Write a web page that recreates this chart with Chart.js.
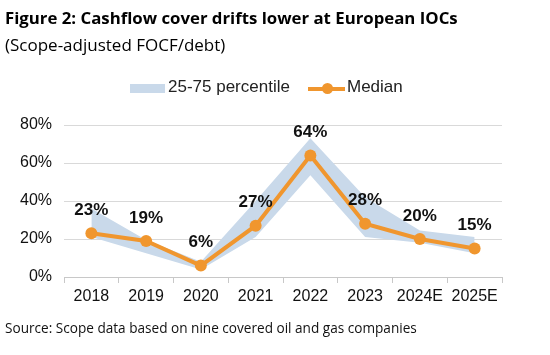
<!DOCTYPE html>
<html>
<head>
<meta charset="utf-8">
<script src="https://cdn.jsdelivr.net/npm/chart.js@4"></script>
<style>
  html, body { margin: 0; padding: 0; background: #fff; }
  #wrap { position: relative; width: 550px; height: 355px; overflow: hidden; }
  canvas { position: absolute; left: 0; top: 0; }
  .txt { position: absolute; white-space: nowrap; color: #000; }
  #title { left: 5px; top: 6px; font: bold 16.8px "Open Sans", sans-serif; }
  #subtitle { left: 5px; top: 33px; font: 17px "Open Sans", sans-serif; }
  #source { left: 5px; top: 318px; font: 13.6px "Open Sans", sans-serif; color: #111; }
  #legend { position: absolute; top: 78px; left: 0; width: 550px; height: 22px; font: 17px "Liberation Sans", Arial, sans-serif; color: #222; }
  .lg { position: absolute; }
</style>
</head>
<body>
<div id="wrap">
  <canvas id="c" width="550" height="355"></canvas>
  <div class="txt" id="title">Figure 2: Cashflow cover drifts lower at European IOCs</div>
  <div class="txt" id="subtitle">(Scope-adjusted FOCF/debt)</div>
  <div id="legend">
    <div class="lg" style="left:130px;top:6px;width:35px;height:9px;background:#c9d9ea;"></div>
    <div class="lg" style="left:168px;top:-1px;">25-75 percentile</div>
    <div class="lg" style="left:308px;top:9px;width:37px;height:3.5px;background:#f0962e;"></div>
    <div class="lg" style="left:322px;top:5px;width:11px;height:11px;border-radius:50%;background:#f0962e;"></div>
    <div class="lg" style="left:347px;top:-1px;">Median</div>
  </div>
  <div class="txt" id="source">Source: Scope data based on nine covered oil and gas companies</div>
</div>
<script>
const categories = ["2018", "2019", "2020", "2021", "2022", "2023", "2024E", "2025E"];
const median = [23, 19, 6, 27, 64, 28, 20, 15];
const p75 = [36, 19.5, 8, 40, 73, 42, 24.5, 21];
const p25 = [21, 12.5, 4, 21, 53.5, 21, 18, 12.5];
const yTicks = [0, 20, 40, 60, 80];

const labelPlugin = {
  id: 'medianLabels',
  afterDatasetsDraw(chart) {
    const ctx = chart.ctx;
    const meta = chart.getDatasetMeta(2);
    ctx.save();
    ctx.font = 'bold 17px "Liberation Sans", Arial, sans-serif';
    ctx.fillStyle = '#111';
    ctx.textAlign = 'center';
    ctx.textBaseline = 'middle';
    meta.data.forEach((pt, i) => {
      ctx.fillText(median[i] + '%', pt.x, pt.y - 23);
    });
    ctx.restore();
  }
};

new Chart(document.getElementById('c'), {
  type: 'line',
  data: {
    labels: categories,
    datasets: [
      { label: 'p75', data: p75, borderWidth: 0, pointRadius: 0, fill: '+1', backgroundColor: '#c9d9ea', tension: 0, order: 2 },
      { label: 'p25', data: p25, borderWidth: 0, pointRadius: 0, fill: false, backgroundColor: '#c9d9ea', tension: 0, order: 2 },
      { label: 'Median', data: median, borderColor: '#f0962e', backgroundColor: '#f0962e', borderWidth: 4, pointRadius: 6, pointBorderWidth: 0, pointBackgroundColor: '#f0962e', tension: 0, fill: false, order: 1 }
    ]
  },
  options: {
    responsive: false,
    animation: false,
    layout: { padding: { top: 125, right: 48, left: 0, bottom: 0 } },
    plugins: { legend: { display: false }, tooltip: { enabled: false } },
    scales: {
      x: {
        offset: true,
        afterFit(s) { s.height = 78; },
        grid: { offset: true, drawOnChartArea: false, drawTicks: true, tickLength: 6, color: '#c8c8c8' },
        border: { display: true, color: '#c8c8c8' },
        ticks: { color: '#111', font: { family: '"Liberation Sans", Arial, sans-serif', size: 16 }, padding: 4, maxRotation: 0, autoSkip: false }
      },
      y: {
        min: 0, max: 80,
        afterFit(s) { s.width = 64; },
        afterBuildTicks(s) { s.ticks = yTicks.map(v => ({ value: v })); },
        grid: { color: '#d9d9d9', drawTicks: false, lineWidth: 1 },
        border: { display: false },
        ticks: { color: '#111', font: { family: '"Liberation Sans", Arial, sans-serif', size: 16 }, padding: 12, callback: v => v + '%' }
      }
    }
  },
  plugins: [labelPlugin]
});
</script>
</body>
</html>
